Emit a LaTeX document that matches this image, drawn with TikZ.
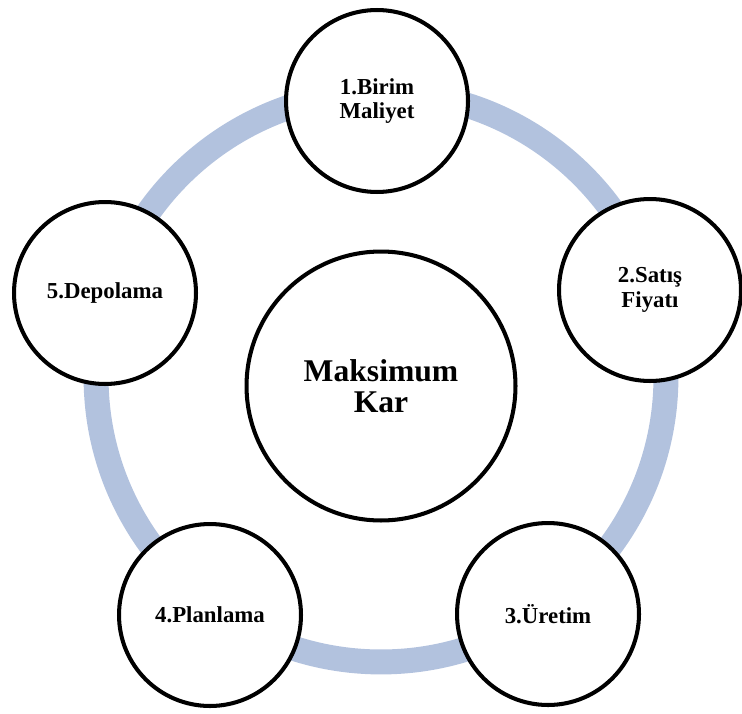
\documentclass[tikz,border=0pt]{standalone}
\usepackage{fontspec}
\setmainfont{Liberation Serif}
\definecolor{ringblue}{RGB}{178,194,222}
\tikzstyle{stage}=[circle, draw=black, line width=2.3pt, fill=white, minimum size=3.64cm, inner sep=0pt, align=center, font=\bfseries\fontsize{13}{14}\selectfont]
\tikzstyle{hub}=[stage, minimum size=5.38cm, font=\bfseries\fontsize{18}{18}\selectfont]

\begin{document}
\begin{tikzpicture}[x=0.02cm,y=-0.02cm]
\useasboundingbox (0,0) rectangle (742,713);

% cycle ring
\draw [ringblue, line width=14.2pt] (381,377) circle (5.7cm);

% centre
\node [hub] (kar) at (381,386) {Maksimum\\Kar};

% stages
\node [stage] (birim) at (377,101) {1.Birim\\Maliyet};
\node [stage] (satis) at (650,290) {2.Satış\\Fiyatı};
\node [stage] (uretim) at (548,614) {3.Üretim};
\node [stage] (plan) at (210,615) {4.Planlama};
\node [stage] (depo) at (105,293) {5.Depolama};
\end{tikzpicture}
\end{document}
